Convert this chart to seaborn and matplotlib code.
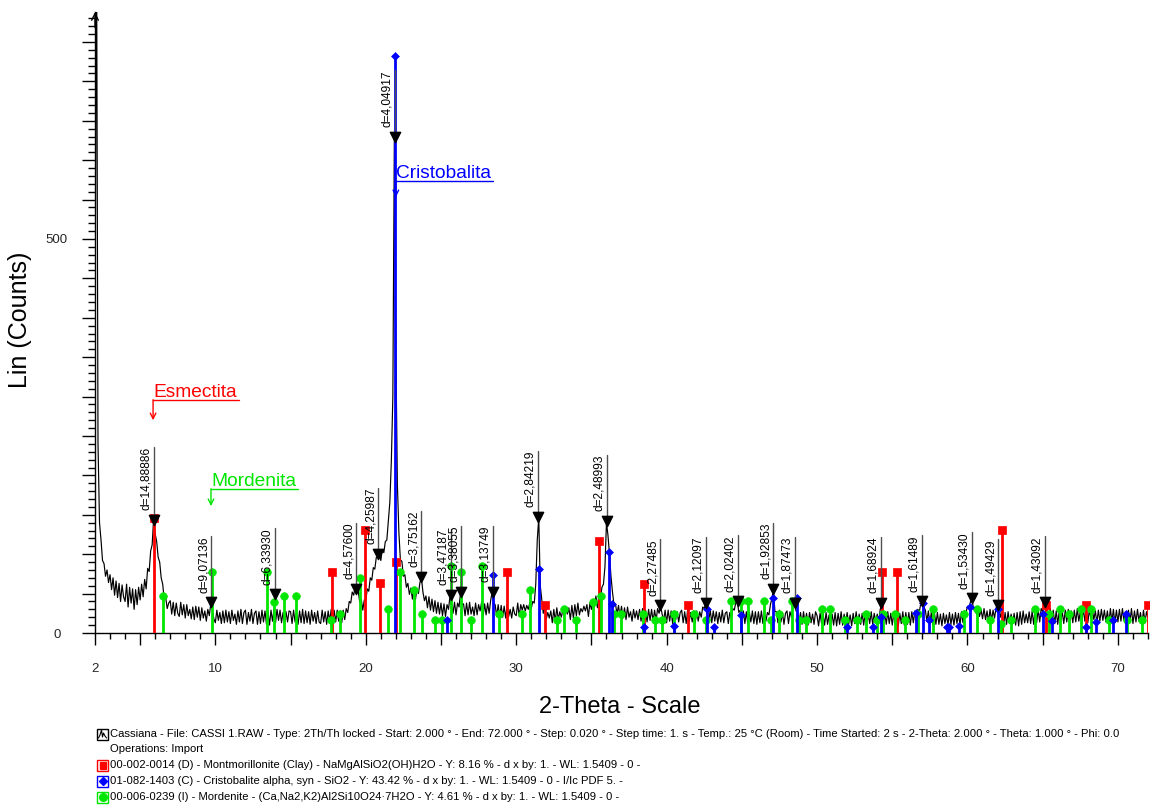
import numpy as np
import pandas as pd
import matplotlib
matplotlib.use("Agg")
import matplotlib.pyplot as plt
from matplotlib.lines import Line2D
from matplotlib.patches import Rectangle
from matplotlib.ticker import FixedLocator, FixedFormatter, MultipleLocator
import seaborn as sns

# ---------------- scan (2-Theta 2..72, read every 0.1 deg) ----------------
SCAN_START, SCAN_END = 2.0, 72.0
WAVELENGTH = 1.5406

counts_02_12 = [
    380, 900, 240, 140, 118, 92, 88, 72, 80, 64,
    74, 55, 70, 48, 66, 45, 63, 40, 61, 46,
    40, 62, 33, 58, 38, 56, 30, 55, 36, 58,
    42, 62, 46, 68, 56, 82, 78, 104, 112, 146,
    126, 116, 96, 90, 70, 62, 43, 45, 31, 38,
    41, 24, 39, 22, 38, 25, 21, 39, 23, 36,
    19, 36, 22, 30, 18, 33, 17, 34, 20, 33,
    16, 32, 19, 28, 15, 30, 22, 38, 30, 18,
    13, 29, 16, 26, 12, 28, 13, 29, 14, 27,
    12, 29, 16, 24, 11, 28, 14, 30, 12, 26,
]
counts_12_22 = [
    29, 11, 26, 15, 30, 12, 25, 28, 11, 27,
    12, 29, 14, 28, 11, 27, 10, 29, 15, 30,
    13, 30, 16, 29, 13, 26, 11, 27, 14, 28,
    27, 12, 29, 14, 25, 11, 28, 13, 30, 12,
    28, 13, 27, 11, 29, 15, 26, 12, 28, 14,
    12, 29, 14, 27, 11, 28, 15, 30, 13, 29,
    14, 29, 15, 28, 13, 29, 17, 31, 26, 40,
    38, 52, 48, 60, 52, 53, 39, 43, 29, 42,
    41, 56, 53, 70, 67, 83, 81, 96, 96, 100,
    92, 106, 102, 116, 118, 142, 166, 218, 300, 632,
]
counts_22_32 = [
    360, 190, 128, 93, 91, 72, 74, 58, 63, 49,
    57, 43, 58, 42, 56, 50, 64, 70, 52, 41,
    47, 32, 46, 29, 43, 27, 41, 25, 39, 24,
    38, 22, 37, 21, 36, 30, 47, 33, 25, 39,
    23, 38, 33, 51, 36, 37, 22, 38, 23, 39,
    24, 33, 22, 38, 23, 36, 28, 39, 21, 37,
    23, 38, 25, 41, 52, 38, 36, 21, 36, 20,
    35, 20, 34, 19, 36, 21, 30, 19, 33, 24,
    22, 38, 21, 36, 29, 36, 28, 35, 30, 38,
    31, 40, 38, 62, 118, 146, 60, 42, 25, 32,
]
counts_32_42 = [
    18, 26, 19, 28, 13, 30, 15, 32, 17, 27,
    20, 29, 22, 31, 24, 32, 17, 35, 19, 36,
    22, 38, 23, 31, 27, 34, 28, 36, 21, 38,
    30, 38, 33, 47, 32, 49, 44, 58, 62, 84,
    140, 124, 100, 72, 52, 36, 37, 24, 35, 21,
    34, 19, 32, 17, 33, 20, 27, 15, 30, 19,
    28, 17, 30, 15, 31, 17, 29, 14, 30, 16,
    30, 15, 29, 16, 31, 25, 34, 24, 16, 29,
    13, 29, 15, 28, 12, 28, 17, 27, 14, 26,
    29, 13, 27, 12, 30, 15, 26, 14, 28, 13,
]
counts_42_52 = [
    28, 15, 27, 20, 33, 31, 38, 24, 16, 29,
    13, 28, 15, 27, 12, 26, 14, 29, 13, 25,
    27, 12, 26, 18, 31, 29, 39, 40, 26, 29,
    13, 28, 12, 27, 11, 26, 14, 28, 12, 27,
    11, 27, 13, 28, 12, 27, 15, 26, 23, 36,
    44, 55, 27, 27, 13, 29, 14, 26, 11, 25,
    28, 12, 27, 20, 34, 39, 28, 27, 12, 26,
    11, 27, 12, 25, 10, 26, 13, 24, 11, 27,
    22, 9, 25, 12, 24, 10, 26, 11, 23, 12,
    24, 10, 26, 9, 25, 11, 27, 10, 24, 12,
]
counts_52_62 = [
    26, 11, 23, 9, 25, 12, 27, 10, 24, 11,
    25, 10, 26, 13, 24, 12, 27, 11, 25, 14,
    24, 14, 30, 37, 22, 26, 11, 27, 12, 25,
    10, 26, 11, 24, 9, 25, 12, 27, 10, 26,
    11, 26, 10, 27, 13, 28, 14, 30, 27, 38,
    41, 33, 29, 15, 28, 12, 27, 10, 26, 11,
    26, 11, 24, 9, 25, 12, 23, 10, 26, 11,
    24, 10, 26, 12, 25, 10, 27, 13, 28, 26,
    34, 31, 40, 43, 30, 30, 24, 33, 21, 30,
    18, 31, 17, 28, 14, 30, 16, 29, 19, 32,
]
counts_62_72 = [
    26, 35, 20, 26, 10, 26, 11, 27, 12, 24,
    12, 25, 10, 26, 9, 27, 11, 28, 13, 24,
    13, 27, 12, 28, 11, 29, 13, 30, 14, 31,
    27, 39, 25, 30, 14, 31, 13, 29, 12, 28,
    11, 28, 15, 27, 12, 29, 14, 30, 16, 28,
    13, 29, 14, 31, 15, 27, 12, 32, 15, 30,
    13, 29, 19, 30, 17, 28, 13, 29, 15, 30,
    16, 29, 14, 28, 12, 31, 15, 30, 13, 29,
    14, 30, 15, 31, 16, 27, 13, 29, 14, 31,
    12, 28, 14, 30, 15, 26, 11, 29, 13, 27,
    20,
]

# ---------------- d-spacing labels ----------------
peak_d = [14.88886, 9.07136, 6.33930, 4.57600, 4.25987, 4.04917, 3.75162,
          3.47187, 3.38055, 3.13749, 2.84219, 2.48993, 2.27485, 2.12097,
          2.02402, 1.92853, 1.87473, 1.68924, 1.61489, 1.53430, 1.49429,
          1.43092]
peak_counts = [144, 39, 49, 56, 100, 630, 71, 48, 52, 52, 147, 142, 35, 38,
               40, 56, 38, 38, 40, 44, 35, 39]

# ---------------- reference patterns (stick positions / heights) ----------------
montmorillonite_tt = [5.93, 17.78, 19.97, 20.95, 22.01, 29.41, 31.92, 35.51,
                      38.48, 41.45, 54.33, 55.34, 62.28, 65.23, 67.89, 72.0]
montmorillonite_counts = [146, 77, 131, 63, 90, 77, 36, 117, 62, 36, 77, 77,
                          131, 36, 36, 36]

cristobalite_tt = [21.93, 25.38, 28.44, 31.50, 36.15, 36.35, 38.48, 40.50,
                   42.71, 43.16, 44.93, 47.05, 48.64, 51.98, 53.75, 54.28,
                   56.60, 57.03, 57.45, 58.63, 58.80, 59.45, 60.20, 62.06,
                   65.03, 65.62, 67.88, 68.53, 69.70, 70.55]
cristobalite_counts = [732, 16, 73, 81, 103, 37, 8, 9, 30, 8, 23, 45, 45, 8,
                       8, 20, 25, 38, 16, 8, 8, 9, 33, 30, 24, 15, 8, 14, 16,
                       24]

mordenite_tt = [6.50, 9.78, 13.44, 13.92, 14.57, 15.36, 17.69, 18.29, 19.64,
                21.50, 22.28, 23.23, 23.72, 24.61, 25.05, 25.65, 26.33, 26.98,
                27.73, 28.84, 30.37, 30.92, 32.70, 33.20, 34.00, 35.09, 35.62,
                36.51, 36.95, 38.46, 39.23, 39.68, 40.52, 41.83, 42.61, 44.29,
                44.93, 45.44, 46.48, 46.95, 47.46, 48.34, 48.83, 49.27, 50.36,
                50.89, 51.85, 52.64, 53.26, 53.97, 54.41, 55.17, 55.86, 56.74,
                57.74, 59.80, 60.64, 61.51, 62.22, 62.88, 64.50, 65.43, 66.16,
                66.76, 67.56, 68.20, 69.38, 70.60, 71.60]
mordenite_counts = [47, 78, 78, 39, 47, 47, 16, 24, 70, 31, 78, 55, 24, 16,
                    16, 85, 78, 16, 85, 24, 24, 55, 16, 31, 16, 39, 47, 24,
                    24, 24, 16, 16, 24, 24, 16, 40, 40, 40, 40, 16, 24, 40,
                    16, 16, 31, 31, 16, 16, 24, 16, 24, 24, 16, 24, 31, 24,
                    31, 16, 12, 16, 31, 24, 31, 24, 31, 31, 16, 16, 16]

phase_names = ["Esmectita", "Mordenita", "Cristobalita"]
legend_lines = [
    "Cassiana - File: CASSI 1.RAW - Type: 2Th/Th locked - Start: 2.000 ° - End: 72.000 ° - Step: 0.020 ° - Step time: 1. s - Temp.: 25 °C (Room) - Time Started: 2 s - 2-Theta: 2.000 ° - Theta: 1.000 ° - Phi: 0.0",
    "Operations: Import",
    "00-002-0014 (D) - Montmorillonite (Clay) - NaMgAlSiO2(OH)H2O - Y: 8.16 % - d x by: 1. - WL: 1.5409 - 0 -",
    "01-082-1403 (C) - Cristobalite alpha, syn - SiO2 - Y: 43.42 % - d x by: 1. - WL: 1.5409 - 0 - I/Ic PDF 5. -",
    "00-006-0239 (I) - Mordenite - (Ca,Na2,K2)Al2Si10O24·7H2O - Y: 4.61 % - d x by: 1. - WL: 1.5409 - 0 -",
]

# ---------------- style ----------------
RED, BLUE, GREEN = "#ff0000", "#0000ff", "#00e600"
sns.set_theme(style="white")
plt.rcParams["font.family"] = ["Liberation Sans", "DejaVu Sans"]
plt.rcParams["axes.linewidth"] = 1.0

W, H = 1150, 805
fig = plt.figure(figsize=(W / 100, H / 100), dpi=100)
ax = fig.add_axes([95 / W, 1 - 633 / H, (1148 - 95) / W, (633 - 12) / H])

counts = counts_02_12 + counts_12_22 + counts_22_32 + counts_32_42 + \
    counts_42_52 + counts_52_62 + counts_62_72
two_theta = np.round(np.linspace(SCAN_START, SCAN_END, len(counts)), 2)
scan = pd.DataFrame({"two_theta": two_theta, "counts": counts})

sns.lineplot(data=scan, x="two_theta", y="counts", ax=ax, color="black",
             linewidth=0.85, estimator=None, sort=False, zorder=2)

# stick patterns
def sticks(tt, cc, color, marker, ms, z):
    ax.vlines(tt, 0, cc, color=color, linewidth=2.0, zorder=z)
    sns.scatterplot(x=tt, y=cc, ax=ax, color=color, marker=marker, s=ms,
                    edgecolor=color, linewidth=0.5, zorder=z + 0.1,
                    clip_on=False, legend=False)

sticks(montmorillonite_tt, montmorillonite_counts, RED, "s", 30, 3)
sticks(mordenite_tt, mordenite_counts, GREEN, "o", 30, 3.3)
sticks(cristobalite_tt, cristobalite_counts, BLUE, "D", 16, 3.6)

ax.set_xlim(SCAN_START, SCAN_END)
ax.set_ylim(0, 788)
ax.set_xlabel("")
ax.set_ylabel("")
sns.despine(ax=ax, top=True, right=True)
for s in ("left", "bottom"):
    ax.spines[s].set_color("black")

# axes ticks
x_major = [2] + list(range(5, 71, 5))
x_labels = ["2"] + [str(v) if v % 10 == 0 else "" for v in range(5, 71, 5)]
ax.xaxis.set_major_locator(FixedLocator(x_major))
ax.xaxis.set_major_formatter(FixedFormatter(x_labels))
ax.xaxis.set_minor_locator(MultipleLocator(1))
y_major = list(range(0, 788, 50))
ax.yaxis.set_major_locator(FixedLocator(y_major))
ax.yaxis.set_major_formatter(FixedFormatter([str(v) if v in (0, 500) else "" for v in y_major]))
ax.yaxis.set_minor_locator(MultipleLocator(10))
ax.tick_params(axis="x", which="major", direction="out", length=8.6, width=1,
               color="black", pad=13, labelsize=9.5, bottom=True)
ax.tick_params(axis="x", which="minor", direction="out", length=4.3, width=1,
               color="black", bottom=True)
ax.tick_params(axis="y", which="major", direction="out", length=9.5, width=1,
               color="black", pad=18, labelsize=9.5, left=True)
ax.tick_params(axis="y", which="minor", direction="out", length=5, width=1,
               color="black", left=True)
plt.setp(ax.get_yticklabels(), ha="center")

# arrow head on top of the intensity axis
ax.annotate("", xy=(0, 1.0), xycoords="axes fraction", xytext=(0, 0.975),
            arrowprops=dict(arrowstyle="->", color="black", lw=1.0,
                            shrinkA=0, shrinkB=0, mutation_scale=12))

# d-spacing markers and labels
peak_tt = 2 * np.degrees(np.arcsin(WAVELENGTH / (2 * np.array(peak_d))))
ax.scatter(peak_tt, peak_counts, marker="v", s=55, color="black", zorder=7)
d_texts = []
for tt, yc, d in zip(peak_tt, peak_counts, peak_d):
    label = ("d=%.5f" % d).replace(".", ",")
    t = ax.annotate(label, xy=(tt, yc), xytext=(-1.2, 7),
                    textcoords="offset points", rotation=90, ha="right",
                    va="bottom", fontsize=8.6, color="black", zorder=8)
    d_texts.append(t)

# phase names with underline and pointer
phase_colors = [RED, GREEN, BLUE]
phase_x = [5.86, 9.71, 22.0]
phase_underline = [296, 183, 574]
phase_tip = [270, 161, 553]
phase_texts = []
for name, c, x, yu in zip(phase_names, phase_colors, phase_x, phase_underline):
    t = ax.annotate(name, xy=(x, yu), xytext=(0.3, 2.2),
                    textcoords="offset points", ha="left", va="baseline",
                    fontsize=13.8, color=c, zorder=8)
    phase_texts.append(t)

# axis titles
fig.text(620 / W, 1 - 707 / H, "2-Theta - Scale", ha="center", va="center",
         fontsize=17, color="black")
fig.text(20 / W, 1 - 320 / H, "Lin (Counts)", ha="center", va="center",
         rotation=90, fontsize=18, color="black")

# leader lines need rendered text extents
fig.canvas.draw()
renderer = fig.canvas.get_renderer()
inv = ax.transData.inverted()
for t, tt, yc in zip(d_texts, peak_tt, peak_counts):
    bb = t.get_window_extent(renderer)
    y_top = inv.transform((bb.x1, bb.y1))[1]
    ax.plot([tt, tt], [yc, y_top], color="#505050", lw=1.0, zorder=6,
            clip_on=False)
for t, c, x, yu, yt in zip(phase_texts, phase_colors, phase_x,
                           phase_underline, phase_tip):
    bb = t.get_window_extent(renderer)
    x_end = inv.transform((bb.x1 + 2, 0))[0]
    ax.plot([x, x_end], [yu, yu], color=c, lw=1.0, zorder=8)
    ax.annotate("", xy=(x, yt), xytext=(x, yu),
                arrowprops=dict(arrowstyle="->", color=c, lw=1.0,
                                shrinkA=0, shrinkB=0, mutation_scale=10))

# pattern list under the chart
def fx(px):
    return px / W

def fy(py):
    return 1 - py / H

row_y = [734, 749, 765, 781, 797]
for text, py in zip(legend_lines, row_y):
    fig.text(fx(110), fy(py), text, ha="left", va="center", fontsize=8.15,
             color="black")

box = 11
icon_rows = [(row_y[0], "black"), (row_y[2], RED), (row_y[3], BLUE), (row_y[4], GREEN)]
for py, c in icon_rows:
    fig.add_artist(Rectangle((fx(97), fy(py + box / 2)), box / W, box / H,
                             transform=fig.transFigure, facecolor="white",
                             edgecolor=c, linewidth=1.0))
# scan icon: small diffractogram sketch
sx = [98.5, 100, 101.5, 102.5, 103.5, 105, 106.5]
sy = [4, 1, -4, 3, -1, 2, 4]
fig.add_artist(Line2D([fx(v) for v in sx], [fy(row_y[0] + v) for v in sy],
                      transform=fig.transFigure, color="black", lw=0.8))
fig.add_artist(Rectangle((fx(99.5), fy(row_y[2] + 3.5)), 6 / W, 7 / H,
                         transform=fig.transFigure, facecolor=RED,
                         edgecolor=RED))
fig.add_artist(Line2D([fx(102.5)], [fy(row_y[3])], transform=fig.transFigure,
                      marker="D", markersize=4.5, color=BLUE, lw=0))
fig.add_artist(Line2D([fx(102.5)], [fy(row_y[4])], transform=fig.transFigure,
                      marker="o", markersize=5.5, color=GREEN, lw=0))

fig.savefig("out.png", dpi=100, facecolor="white")
